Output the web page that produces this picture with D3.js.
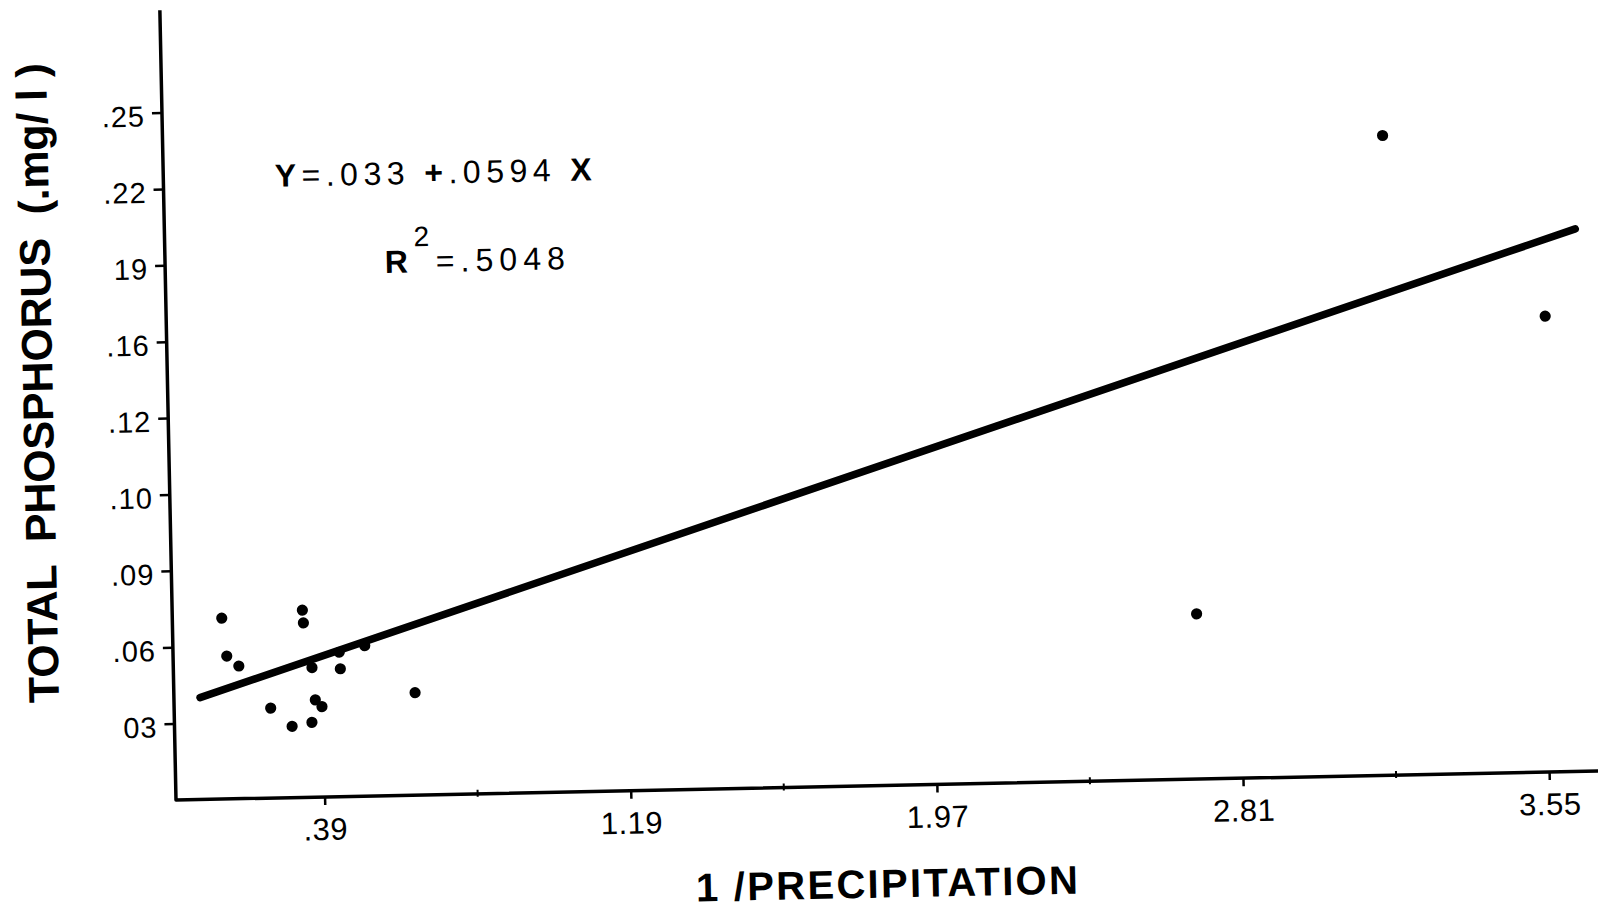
<!DOCTYPE html>
<html>
<head>
<meta charset="utf-8">
<script src="https://cdn.jsdelivr.net/npm/d3@7"></script>
<style>
  body { margin: 0; background: #fff; }
  svg { display: block; }
  text { font-family: "Liberation Sans", Arial, sans-serif; fill: #000; }
</style>
</head>
<body>
<svg id="chart"></svg>
<script>
"use strict";

var width = 1598,
    height = 910;

// tick values as printed on the axes (the scan spaces them evenly)
var xTicks = [0.39, 1.19, 1.97, 2.81, 3.55],
    xTickLabels = [".39", "1.19", "1.97", "2.81", "3.55"],
    yTicks = [0.03, 0.06, 0.09, 0.10, 0.12, 0.16, 0.19, 0.22, 0.25],
    yTickLabels = ["03", ".06", ".09", ".10", ".12", ".16", "19", ".22", ".25"];

var precip = [0.131, 0.142, 0.173, 0.254, 0.309, 0.361, 0.371, 0.388, 0.342,
              0.344, 0.364, 0.436, 0.438, 0.503, 0.632, 2.692, 3.179, 3.563];
var phos = [0.0710, 0.0561, 0.0521, 0.0353, 0.0280, 0.0294, 0.0382, 0.0355, 0.0735,
            0.0685, 0.0509, 0.0567, 0.0502, 0.0591, 0.0402, 0.0649, 0.2312, 0.1586];

// regression line end points as drawn
var fitX = [0.07, 3.64],
    fitY = [0.040, 0.193];

var xStart = 148.6, xStep = 306.2,   // plot units per major x tick
    yStep = 76.4, yTop = 790, xEnd = 1440;

var x = d3.scaleLinear()
    .domain(xTicks)
    .range(xTicks.map(function (d, i) { return xStart + i * xStep; }));

var y = d3.scaleLinear()
    .domain([0].concat(yTicks))
    .range(d3.range(yTicks.length + 1).map(function (k) { return -k * yStep; }));

var svg = d3.select("#chart")
    .attr("width", width)
    .attr("height", height);

// the page was scanned slightly rotated
var g = svg.append("g")
    .attr("transform", "translate(176,800) rotate(-1.17)");

// axis lines
g.append("path")
    .attr("d", "M" + xEnd + ",0H0V" + (-yTop))
    .attr("fill", "none")
    .attr("stroke", "#000")
    .attr("stroke-width", 3.5)
    .attr("stroke-linejoin", "round");

var xAxis = g.append("g")
    .call(d3.axisBottom(x)
        .tickValues(xTicks)
        .tickSize(8)
        .tickPadding(13)
        .tickFormat(function (d, i) { return xTickLabels[i]; }));
xAxis.select(".domain").remove();
xAxis.selectAll("line").attr("stroke-width", 2.5);
xAxis.selectAll("text")
    .attr("font-size", 31)
    .attr("letter-spacing", 0.5)
    .attr("font-family", "Liberation Sans, Arial, sans-serif");

// minor ticks halfway between labelled ones
g.selectAll(".minor")
    .data(d3.pairs(xTicks))
    .enter().append("line")
    .attr("class", "minor")
    .attr("x1", function (d) { return (x(d[0]) + x(d[1])) / 2; })
    .attr("x2", function (d) { return (x(d[0]) + x(d[1])) / 2; })
    .attr("y1", -4)
    .attr("y2", 3)
    .attr("stroke", "#000")
    .attr("stroke-width", 2);

var yAxis = g.append("g")
    .call(d3.axisLeft(y)
        .tickValues(yTicks)
        .tickSize(10)
        .tickPadding(7)
        .tickFormat(function (d, i) { return yTickLabels[i]; }));
yAxis.select(".domain").remove();
yAxis.selectAll("line").attr("stroke-width", 2.5);
yAxis.selectAll("text")
    .attr("font-size", 29)
    .attr("dy", "0.45em")
    .attr("letter-spacing", 1)
    .attr("font-family", "Liberation Sans, Arial, sans-serif");

// regression line
var line = d3.line()
    .x(function (d) { return x(d[0]); })
    .y(function (d) { return y(d[1]); });

g.append("path")
    .datum(d3.zip(fitX, fitY))
    .attr("d", line)
    .attr("fill", "none")
    .attr("stroke", "#000")
    .attr("stroke-width", 7.5)
    .attr("stroke-linecap", "round");

// points
g.selectAll(".pt")
    .data(d3.zip(precip, phos))
    .enter().append("circle")
    .attr("class", "pt")
    .attr("cx", function (d) { return x(d[0]); })
    .attr("cy", function (d) { return y(d[1]); })
    .attr("r", 5.6)
    .attr("fill", "#000");

// axis titles
g.append("text")
    .attr("transform", "translate(-115,-419.5) rotate(-90)")
    .attr("text-anchor", "middle")
    .attr("font-size", 43)
    .attr("font-weight", "bold")
    .attr("textLength", 640)
    .attr("lengthAdjust", "spacing")
    .style("white-space", "pre")
    .text("TOTAL  PHOSPHORUS  (.mg/ l )");

g.append("text")
    .attr("x", 709)
    .attr("y", 112)
    .attr("text-anchor", "middle")
    .attr("font-size", 40)
    .attr("font-weight", "bold")
    .attr("textLength", 382)
    .attr("lengthAdjust", "spacing")
    .style("white-space", "pre")
    .text("1 /PRECIPITATION");

// regression equation
var eq = g.append("text")
    .attr("x", 111.5)
    .attr("y", -611)
    .attr("font-size", 32)
    .attr("textLength", 317)
    .attr("lengthAdjust", "spacing")
    .style("white-space", "pre");
eq.append("tspan").attr("font-weight", "bold").text("Y");
eq.append("tspan").text("=.033 ");
eq.append("tspan").attr("font-weight", "bold").text("+");
eq.append("tspan").text(".0594 ");
eq.append("tspan").attr("font-weight", "bold").text("X");

var r2 = g.append("text")
    .attr("x", 219.8)
    .attr("y", -522.7)
    .attr("font-size", 32)
    .attr("textLength", 180)
    .attr("lengthAdjust", "spacing");
r2.append("tspan").attr("font-weight", "bold").text("R");
r2.append("tspan").attr("dy", -26).attr("font-size", 28).text("2");
r2.append("tspan").attr("dy", 26).text("=.5048");
</script>
</body>
</html>
